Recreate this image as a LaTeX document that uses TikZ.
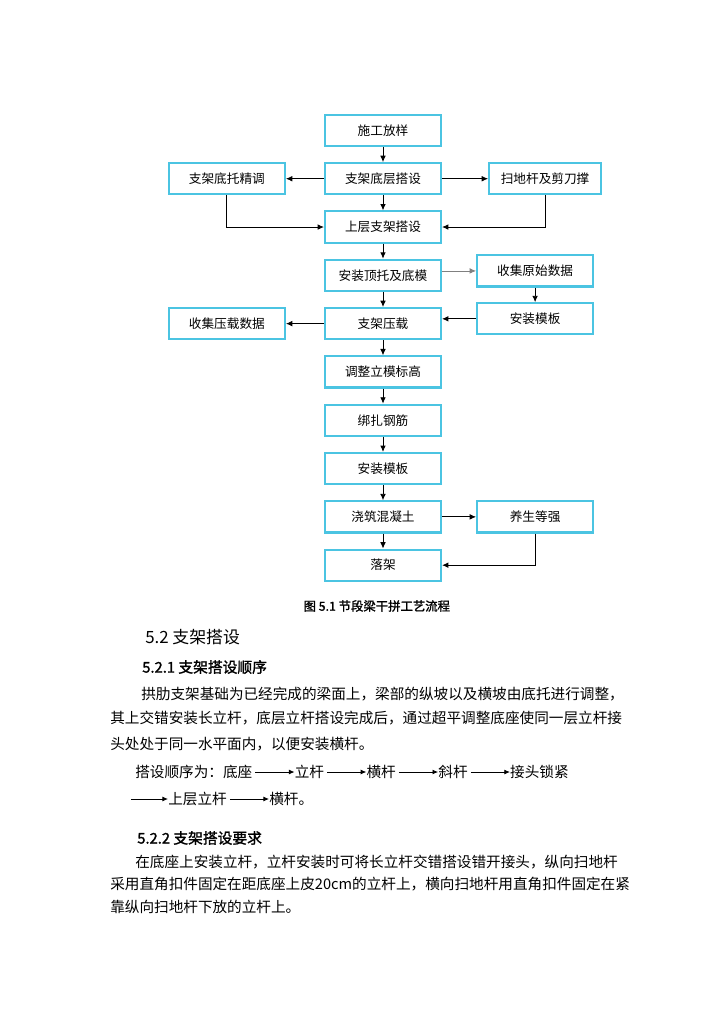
\documentclass[tikz,border=0pt]{standalone}
\usepackage{fontspec}
\usepackage{tikz}
\usetikzlibrary{arrows.meta,positioning,calc}
\newfontfamily\cjk{Noto Sans CJK SC}
\newfontfamily\cjkbold[FakeBold=1.6]{Noto Sans CJK SC}
\definecolor{boxcyan}{RGB}{75,196,226}

\begin{document}
\begin{tikzpicture}[
    node distance=0.375cm,
    box/.style={rectangle, draw=boxcyan, fill=white, line width=1.5pt, minimum width=2.9cm, minimum height=0.78cm, align=center, font=\cjk\fontsize{9}{11}\selectfont},
    arrow/.style={-{Latex[length=4.5pt,width=4pt]}, line width=0.6pt, black},
    seqarrow/.style={-{Latex[length=4pt,width=3.5pt]}, line width=0.6pt, shorten <=2pt},
    body/.style={anchor=west, inner sep=0pt, font=\cjk\fontsize{10.4}{12}\selectfont},
    seq/.style={inner sep=0pt, font=\cjk\fontsize{10.4}{12}\selectfont}
]
\useasboundingbox (0,0) rectangle (18.125,-25.6);

% Main column
\node[box] (fangyang) at (9.575,-3.26) {施工放样};
\node[box, below=of fangyang] (dichen) {支架底层搭设};
\node[box, below=of dichen] (shangceng) {上层支架搭设};
\node[box, below=of shangceng] (dingtuo) {安装顶托及底模};
\node[box, below=of dingtuo] (yazai) {支架压载};
\node[box, below=of yazai] (tiaozheng) {调整立模标高};
\node[box, below=of tiaozheng] (bangzha) {绑扎钢筋};
\node[box, below=of bangzha] (moban) {安装模板};
\node[box, below=of moban] (jiaozhu) {浇筑混凝土};
\node[box, below=of jiaozhu] (luojia) {落架};

% Side boxes
\node[box, left=0.95cm of dichen] (ditok) {支架底托精调};
\node[box, right=1.15cm of dichen, minimum width=2.8cm] (saodi) {扫地杆及剪刀撑};
\node[box, right=0.85cm of dingtuo, yshift=0.11cm] (yuanshi) {收集原始数据};
\node[box, right=0.85cm of yazai, yshift=0.12cm] (mobanR) {安装模板};
\node[box, left=0.95cm of yazai] (yashuju) {收集压载数据};
\node[box, right=0.85cm of jiaozhu] (yangsheng) {养生等强};

% Arrows
\draw[arrow] (fangyang) -- (dichen);
\draw[arrow] (dichen) -- (ditok);
\draw[arrow] (dichen) -- (saodi);
\draw[arrow] (dichen) -- (shangceng);
\draw[arrow] (ditok) |- (shangceng);
\draw[arrow] (saodi) |- (shangceng);
\draw[arrow] (shangceng) -- (dingtuo);
\draw[arrow, draw=gray] (dingtuo.east |- yuanshi) -- (yuanshi);
\draw[arrow] (yuanshi) -- (mobanR);
\draw[arrow] (mobanR) -- (mobanR -| yazai.east);
\draw[arrow] (dingtuo) -- (yazai);
\draw[arrow] (yazai) -- (yashuju);
\draw[arrow] (yazai) -- (tiaozheng);
\draw[arrow] (tiaozheng) -- (bangzha);
\draw[arrow] (bangzha) -- (moban);
\draw[arrow] (moban) -- (jiaozhu);
\draw[arrow] (jiaozhu) -- (yangsheng);
\draw[arrow] (jiaozhu) -- (luojia);
\draw[arrow] (yangsheng) |- (luojia);

% Caption and text
\node[font=\cjkbold\fontsize{8.8}{10}\selectfont] (caption) at (9.42,-15.15) {图 5.1 节段梁干拼工艺流程};
\node[body, font=\cjk\fontsize{12}{14}\selectfont] (h52) at (3.625,-15.925) {5.2 支架搭设};
\node[body, font=\cjkbold\fontsize{10.5}{12}\selectfont] (h521) at (3.55,-16.675) {5.2.1 支架搭设顺序};
\node[body] (p1) at (3.525,-17.35) {拱肋支架基础为已经完成的梁面上，梁部的纵坡以及横坡由底托进行调整，};
\node[body] (p2) at (2.75,-17.95) {其上交错安装长立杆，底层立杆搭设完成后，通过超平调整底座使同一层立杆接};
\node[body] (p3) at (2.75,-18.6) {头处处于同一水平面内，以便安装横杆。};

% Sequence
\node[body] (seq0) at (3.375,-19.3) {搭设顺序为：底座};
\node[seq, right=1.05cm of seq0] (s1) {立杆};
\node[seq, right=1.05cm of s1] (s2) {横杆};
\node[seq, right=1.05cm of s2] (s3) {斜杆};
\node[seq, right=1.05cm of s3] (s4) {接头锁紧};
\coordinate (l5start) at (3.2,-19.975);
\node[body] (s5) at (4.2,-19.975) {上层立杆};
\node[seq, right=1.05cm of s5] (s6) {横杆。};
\draw[seqarrow] (seq0) -- (s1);
\draw[seqarrow] (s1) -- (s2);
\draw[seqarrow] (s2) -- (s3);
\draw[seqarrow] (s3) -- (s4);
\draw[seqarrow] (l5start) -- (s5);
\draw[seqarrow] (s5) -- (s6);

\node[body, font=\cjkbold\fontsize{10.5}{12}\selectfont] (h522) at (3.425,-20.95) {5.2.2 支架搭设要求};
\node[body] (p4) at (3.375,-21.55) {在底座上安装立杆，立杆安装时可将长立杆交错搭设错开接头，纵向扫地杆};
\node[body] (p5) at (2.75,-22.1) {采用直角扣件固定在距底座上皮20cm的立杆上，横向扫地杆用直角扣件固定在紧};
\node[body] (p6) at (2.75,-22.675) {靠纵向扫地杆下放的立杆上。};

\end{tikzpicture}
\end{document}
